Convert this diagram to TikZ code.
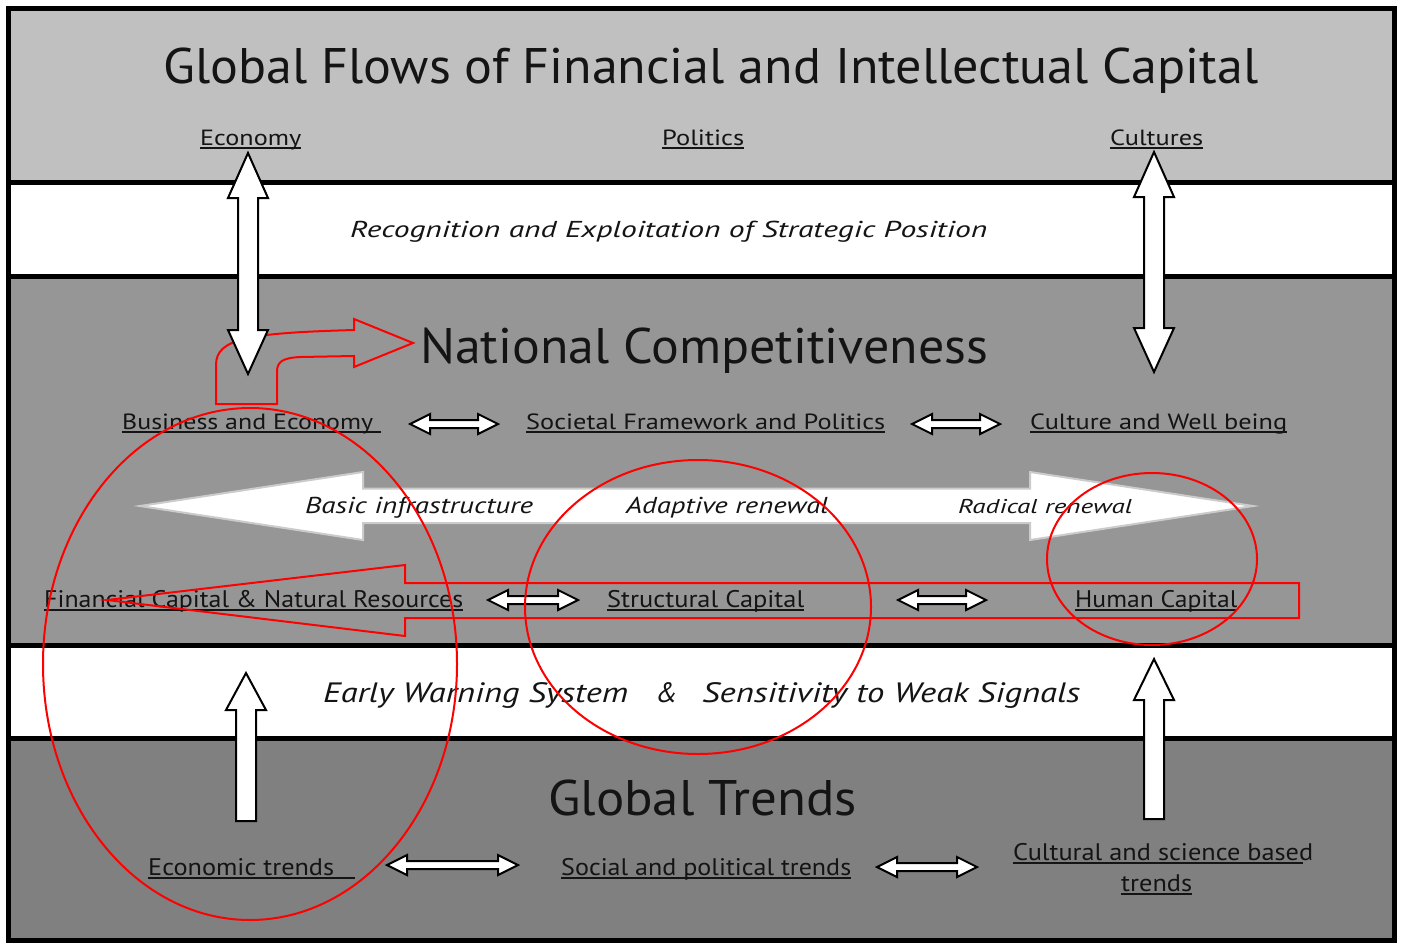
\documentclass[tikz,border=0pt]{standalone}
\usepackage{fontspec}
\setmainfont{PT Sans}
\usepackage{graphicx}
\definecolor{bandA}{HTML}{C0C0C0}
\definecolor{bandB}{HTML}{969696}
\definecolor{bandC}{HTML}{808080}
\definecolor{bigoutline}{HTML}{CBCBCB}
\definecolor{txt}{HTML}{141414}
\newcommand\fitw[2]{\resizebox{#1bp}{\height}{#2}}
\tikzset{
  sep/.style={line width=5bp},
  blockarrow/.style={fill=white,draw=black,line width=2bp,line join=miter},
  redline/.style={draw=red,line width=2bp},
  lbl/.style={anchor=base west,inner sep=0pt,text=txt,font=\fontsize{22bp}{26bp}\selectfont},
  lblm/.style={lbl,font=\fontsize{24bp}{28bp}\selectfont},
  ital/.style={lbl,font=\fontsize{23bp}{28bp}\selectfont\itshape},
  italL/.style={lbl,font=\fontsize{28bp}{32bp}\selectfont\itshape},
  italS/.style={lbl,font=\fontsize{20bp}{24bp}\selectfont\itshape},
  big/.style={lbl,font=\fontsize{50bp}{56bp}\selectfont},
}
\newcommand\ul[1]{\draw[line width=1.6bp,txt] ([yshift=-3bp]#1.base west) -- ([yshift=-3bp]#1.base east);}
% horizontal double arrow: x1 x2 y
\newcommand\hdarrow[3]{\draw[blockarrow] (#1,#3) -- ({#1+20},{#3-10}) -- ({#1+20},{#3-4}) -- ({#2-20},{#3-4}) -- ({#2-20},{#3-10}) -- (#2,#3) -- ({#2-20},{#3+10}) -- ({#2-20},{#3+4}) -- ({#1+20},{#3+4}) -- ({#1+20},{#3+10}) -- cycle;}
% vertical double arrow: x top bottom
\newcommand\vdarrow[3]{\draw[blockarrow] (#1,#2) -- ({#1+20},{#2+45}) -- ({#1+10},{#2+45}) -- ({#1+10},{#3-44}) -- ({#1+20},{#3-44}) -- (#1,#3) -- ({#1-20},{#3-44}) -- ({#1-10},{#3-44}) -- ({#1-10},{#2+45}) -- ({#1-20},{#2+45}) -- cycle;}
% vertical up arrow: x tip headbase bottom
\newcommand\uparr[4]{\draw[blockarrow] (#1,#2) -- ({#1+20},#3) -- ({#1+10},#3) -- ({#1+10},#4) -- ({#1-10},#4) -- ({#1-10},#3) -- ({#1-20},#3) -- cycle;}
\begin{document}
\begin{tikzpicture}[x=1bp,y=-1bp]
\useasboundingbox (0,0) rectangle (1405,943);
% bands
\fill[bandA] (8,8) rectangle (1394,182.5);
\fill[white] (8,182.5) rectangle (1394,276.5);
\fill[bandB] (8,276.5) rectangle (1394,645);
\fill[white] (8,645) rectangle (1394,738);
\fill[bandC] (8,738) rectangle (1394,940);
\draw[sep] (8,182.5) -- (1394.5,182.5);
\draw[sep] (8,276.5) -- (1394.5,276.5);
\draw[sep] (8,645) -- (1394.5,645);
\draw[sep] (8,738) -- (1394.5,738);
\draw[sep] (8,8) rectangle (1394.5,940.5);

% big bidirectional arrow
\draw[fill=white,draw=bigoutline,line width=2bp] (140,506) -- (363,472) -- (363,488.5) -- (1030,488.5) -- (1030,472) -- (1253,506) -- (1030,540) -- (1030,523) -- (363,523) -- (363,540) -- cycle;

% red bent arrow (under the white arrow)
\draw[redline] (216,404) -- (216,365) .. controls (216,338) and (250,333) .. (354,330) -- (354,319) -- (413,343) -- (354,367) -- (354,356) -- (300,357) .. controls (282,358) and (277,362) .. (277,372) -- (277,404) -- cycle;

% vertical block arrows
\vdarrow{248}{153}{374}
\vdarrow{1154}{152}{372}
\uparr{246}{673}{710}{821}
\uparr{1154}{659}{700}{819}

% small horizontal double arrows
\hdarrow{410}{498}{424}
\hdarrow{912}{1000}{424}
\hdarrow{488}{578}{600}
\hdarrow{898}{986}{600}
\hdarrow{387}{518}{865}
\hdarrow{877}{977}{867}

% texts
\node[big] (title) at (163,83) {\fitw{1095}{Global Flows of Financial and Intellectual Capital}};
\node[lbl] (economy) at (200,145) {\fitw{101}{Economy}};
\node[lbl] (politics) at (662,145) {\fitw{82}{Politics}};
\node[lbl] (cultures) at (1110,145) {\fitw{93}{Cultures}};
\ul{economy}\ul{politics}\ul{cultures}
\node[ital] (recog) at (350,237) {\fitw{637}{Recognition and Exploitation of Strategic Position}};
\node[big] (natcomp) at (420,363) {\fitw{568}{National Competitiveness}};
\node[lbl] (busecon) at (122,429) {\fitw{251}{Business and Economy}\kern8bp\null};
\node[lbl] (societal) at (526,429) {\fitw{359}{Societal Framework and Politics}};
\node[lbl] (culture) at (1030,429) {\fitw{257}{Culture and Well being}};
\ul{busecon}\ul{societal}\ul{culture}
\node[ital] (basic) at (305,513) {\fitw{228}{Basic infrastructure}};
\node[ital] (adaptive) at (626,513) {\fitw{202}{Adaptive renewal}};
\node[italS] (radical) at (958,513) {\fitw{174}{Radical renewal}};
\node[lblm] (fincap) at (44,607) {\fitw{419}{Financial Capital \& Natural Resources}};
\node[lblm] (struct) at (607,607) {\fitw{197}{Structural Capital}};
\node[lblm] (human) at (1075,607) {\fitw{162}{Human Capital}};
\ul{fincap}\ul{struct}\ul{human}
\node[italL] (early) at (323,702) {\fitw{305}{Early Warning System}};
\node[italL] (amp) at (656,702) {\&};
\node[italL] (weak) at (702,702) {\fitw{378}{Sensitivity to Weak Signals}};
\node[big] (gtrends) at (548,815) {\fitw{309}{Global Trends}};
\node[lblm] (econtr) at (148,875) {\fitw{186}{Economic trends}\kern21bp\null};
\node[lblm] (socpol) at (561,875) {\fitw{290}{Social and political trends}};
\node[lblm] (cultsci) at (1013,860) {\fitw{300}{Cultural and science based}};
\node[lblm] (trendsB) at (1121,891) {\fitw{71}{trends}};
\ul{econtr}\ul{socpol}\ul{trendsB}
\draw[line width=1.6bp,txt] ([yshift=-3bp]cultsci.base west) -- ([yshift=-3bp,xshift=-10bp]cultsci.base east);

% red annotations
\draw[redline] (107,600) -- (405,565) -- (405,583) -- (1299,583) -- (1299,618) -- (405,618) -- (405,636) -- cycle;
\draw[redline] (250,664) ellipse [x radius=207,y radius=256];
\draw[redline] (698,607) ellipse [x radius=173,y radius=147];
\draw[redline] (1152,559) ellipse [x radius=105,y radius=86];
\end{tikzpicture}
\end{document}
